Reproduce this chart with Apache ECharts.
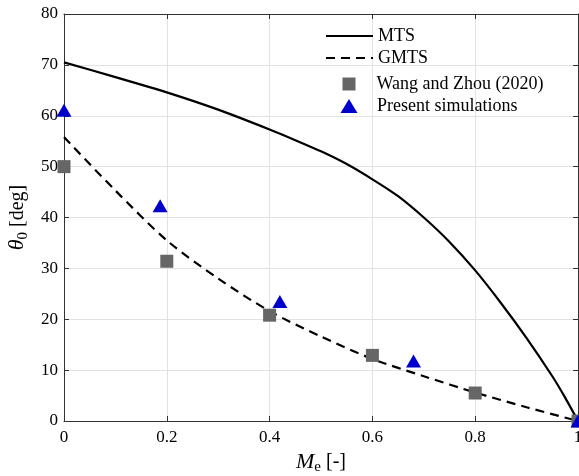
<!DOCTYPE html>
<html>
<head>
<meta charset="utf-8">
<script src="https://cdn.jsdelivr.net/npm/echarts@6/dist/echarts.min.js"></script>
<style>
html,body{margin:0;padding:0;background:#fff;overflow:hidden;}
#c{width:579px;height:476px;}
</style>
</head>
<body>
<div id="c"></div>
<script>
// Data
var mtsMe    = [0, 0.1, 0.2, 0.3, 0.4, 0.45, 0.5, 0.55, 0.6, 0.65, 0.7, 0.75, 0.8, 0.85, 0.9, 0.95, 0.975, 1.0];
var mtsTheta = [70.5, 67.6, 64.6, 61.2, 57.3, 55.2, 53.0, 50.5, 47.5, 44.2, 40.0, 35.2, 29.6, 23.2, 16.3, 8.8, 4.6, 0];

var gmtsMe    = [0, 0.1, 0.2, 0.3, 0.4, 0.5, 0.6, 0.7, 0.8, 0.9, 1.0];
var gmtsTheta = [55.8, 45.3, 35.5, 28.0, 21.6, 16.6, 12.2, 8.8, 5.6, 2.7, 0];

var wangMe    = [0, 0.2, 0.4, 0.6, 0.8, 1.0];
var wangTheta = [50.0, 31.4, 20.8, 12.9, 5.5, 0];

var simMe    = [0, 0.187, 0.42, 0.68, 1.0];
var simTheta = [61.1, 42.3, 23.5, 11.8, 0];

var xTicks = [0, 0.2, 0.4, 0.6, 0.8, 1];
var yTicks = [0, 10, 20, 30, 40, 50, 60, 70, 80];

var seriesNames = ['MTS', 'GMTS', 'Wang and Zhou (2020)', 'Present simulations'];

function pairs(xs, ys) { return xs.map(function (x, i) { return [x, ys[i]]; }); }

var FONT = 'Liberation Serif';
var axisColor = '#333333';
var gridColor = '#e2e2e2';
var legendText = {fontFamily: FONT, fontSize: 18, color: '#000'};

var chart = echarts.init(document.getElementById('c'), null, {renderer: 'canvas'});
chart.setOption({
  animation: false,
  backgroundColor: '#ffffff',
  grid: {left: 64, top: 14, width: 514, height: 407, containLabel: false, outerBoundsMode: 'none'},
  legend: [
    {
      data: [seriesNames[0], seriesNames[1]],
      orient: 'vertical', left: 320, top: 22,
      itemWidth: 47, itemHeight: 13, itemGap: 4,
      itemStyle: {opacity: 0},
      textStyle: legendText,
      selectedMode: false
    },
    {
      data: [seriesNames[2]],
      orient: 'vertical', left: 337.5, top: 70,
      itemWidth: 13, itemHeight: 13,
      textStyle: Object.assign({padding: [0, 0, 0, 16]}, legendText),
      selectedMode: false
    },
    {
      data: [seriesNames[3]],
      orient: 'vertical', left: 335.5, top: 92,
      itemWidth: 17, itemHeight: 14,
      textStyle: Object.assign({padding: [0, 0, 0, 14.5]}, legendText),
      selectedMode: false
    }
  ],
  xAxis: [
    {
      type: 'value', min: 0, max: 1, interval: 0.2, position: 'bottom',
      axisLine: {show: true, onZero: false, lineStyle: {color: axisColor, width: 1}},
      axisTick: {show: true, inside: true, length: 5, lineStyle: {color: axisColor}},
      axisLabel: {color: '#000', fontFamily: FONT, fontSize: 17, margin: 8,
        formatter: function (v) { return String(Math.round(v * 10) / 10); }},
      splitLine: {show: true, lineStyle: {color: gridColor, width: 1}},
      name: '{i|M}{s|e} [-]', nameLocation: 'middle', nameGap: 27,
      nameTextStyle: {color: '#000', fontFamily: FONT, fontSize: 20,
        rich: {
          i: {fontStyle: 'italic', fontFamily: FONT, fontSize: 22, color: '#000'},
          s: {fontFamily: FONT, fontSize: 15, color: '#000', padding: [10, 0, 0, 0]}
        }}
    },
    {
      type: 'value', min: 0, max: 1, interval: 0.2, position: 'top',
      axisLine: {show: true, onZero: false, lineStyle: {color: axisColor, width: 1}},
      axisTick: {show: true, inside: true, length: 5, lineStyle: {color: axisColor}},
      axisLabel: {show: false}, splitLine: {show: false}
    }
  ],
  yAxis: [
    {
      type: 'value', min: 0, max: 80, interval: 10, position: 'left',
      axisLine: {show: true, onZero: false, lineStyle: {color: axisColor, width: 1}},
      axisTick: {show: true, inside: true, length: 5, lineStyle: {color: axisColor}},
      axisLabel: {color: '#000', fontFamily: FONT, fontSize: 17, margin: 6},
      splitLine: {show: true, lineStyle: {color: gridColor, width: 1}},
      name: '{i|θ}{s|0} [deg]', nameLocation: 'middle', nameGap: 31,
      nameTextStyle: {color: '#000', fontFamily: FONT, fontSize: 20,
        rich: {
          i: {fontStyle: 'italic', fontFamily: FONT, fontSize: 22, color: '#000'},
          s: {fontFamily: FONT, fontSize: 15, color: '#000', padding: [10, 0, 0, 0]}
        }}
    },
    {
      type: 'value', min: 0, max: 80, interval: 10, position: 'right',
      axisLine: {show: true, onZero: false, lineStyle: {color: axisColor, width: 1}},
      axisTick: {show: true, inside: true, length: 5, lineStyle: {color: axisColor}},
      axisLabel: {show: false}, splitLine: {show: false}
    }
  ],
  series: [
    {
      name: seriesNames[0], type: 'line', xAxisIndex: 0, yAxisIndex: 0,
      data: pairs(mtsMe, mtsTheta), symbol: 'none', smooth: 0.2, z: 2,
      lineStyle: {color: '#000', width: 2.2, type: 'solid'},
      itemStyle: {color: '#000'}
    },
    {
      name: seriesNames[1], type: 'line', xAxisIndex: 0, yAxisIndex: 0,
      data: pairs(gmtsMe, gmtsTheta), symbol: 'none', smooth: 0.3, z: 2,
      lineStyle: {color: '#000', width: 2.2, type: [9, 6]},
      itemStyle: {color: '#000'}
    },
    {
      name: seriesNames[2], type: 'scatter', xAxisIndex: 0, yAxisIndex: 0,
      data: pairs(wangMe, wangTheta), symbol: 'rect', symbolSize: 13, z: 3,
      itemStyle: {color: '#666666', opacity: 1}
    },
    {
      name: seriesNames[3], type: 'scatter', xAxisIndex: 0, yAxisIndex: 0,
      data: pairs(simMe, simTheta), symbol: 'triangle', symbolSize: [15, 13], z: 4,
      itemStyle: {color: '#0000cd', opacity: 1}
    }
  ]
});
</script>
</body>
</html>
